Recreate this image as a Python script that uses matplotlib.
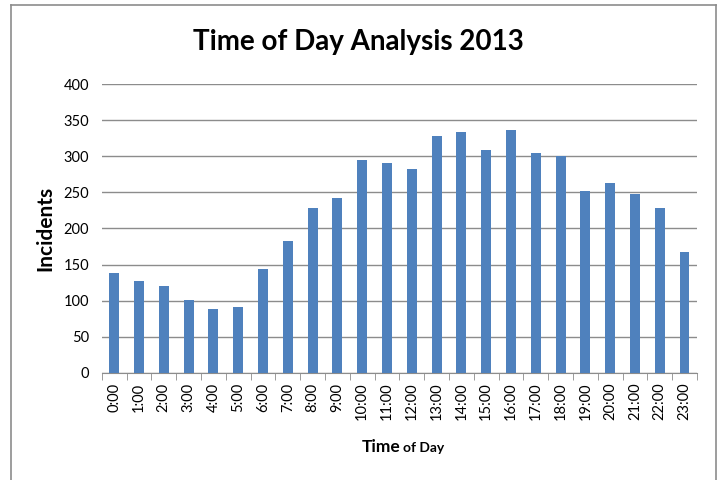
import matplotlib
matplotlib.use("Agg")
import matplotlib.pyplot as plt
from matplotlib.lines import Line2D

# ── data ───────────────────────────────────────────────────────────────────────
hours = [f"{h}:00" for h in range(24)]
incidents = [139, 127, 120, 101, 88, 91, 144, 183, 228, 242, 295, 290,
             283, 328, 333, 309, 337, 304, 300, 252, 263, 248, 229, 167]
yticks = [0, 50, 100, 150, 200, 250, 300, 350, 400]

plt.rcParams["font.family"] = ["Lato", "DejaVu Sans"]

fig = plt.figure(figsize=(7.17, 4.8), dpi=100)
ax = fig.add_axes([0.142, 0.223, 0.830, 0.602])

x = list(range(len(hours)))
ax.bar(x, incidents, width=0.4, color="#4f81bd", zorder=3)

ax.set_xlim(-0.5, len(hours) - 0.5)
ax.set_ylim(0, 400)
ax.set_yticks(yticks)
ax.set_yticklabels([str(v) for v in yticks], fontsize=10.5)
ax.tick_params(axis="y", length=0, pad=9)
ax.grid(axis="y", color="#8c8c8c", linewidth=1, zorder=0)

# category labels centred on bars, tick marks on the boundaries
ax.set_xticks(x)
ax.set_xticklabels(hours, rotation=90, fontsize=10.5)
ax.tick_params(axis="x", which="major", length=0, pad=7)
ax.set_xticks([i - 0.5 for i in range(len(hours) + 1)], minor=True)
ax.tick_params(axis="x", which="minor", length=5, color="#8c8c8c", direction="out")

for side in ("top", "right", "left"):
    ax.spines[side].set_visible(False)
ax.spines["bottom"].set_color("#8c8c8c")

ax.set_ylabel("Incidents", fontsize=15, fontweight="bold", labelpad=6)

# title and mixed-size x label
fig.text(0.50, 0.912, "Time of Day Analysis 2013", ha="center", va="center",
         fontsize=20, fontweight="bold")
fig.text(0.558, 0.058, "Time", ha="right", va="baseline",
         fontsize=12.5, fontweight="bold")
fig.text(0.562, 0.058, "of Day", ha="left", va="baseline",
         fontsize=10, fontweight="bold")

# chart-area border (left, top, right)
border = dict(color="#8c8c8c", linewidth=1.2, transform=fig.transFigure)
fig.lines.append(Line2D([0.015, 0.015], [0.0, 0.99], **border))
fig.lines.append(Line2D([0.015, 0.998], [0.99, 0.99], **border))
fig.lines.append(Line2D([0.998, 0.998], [0.0, 0.99], **border))

fig.savefig("out.png", dpi=100)
